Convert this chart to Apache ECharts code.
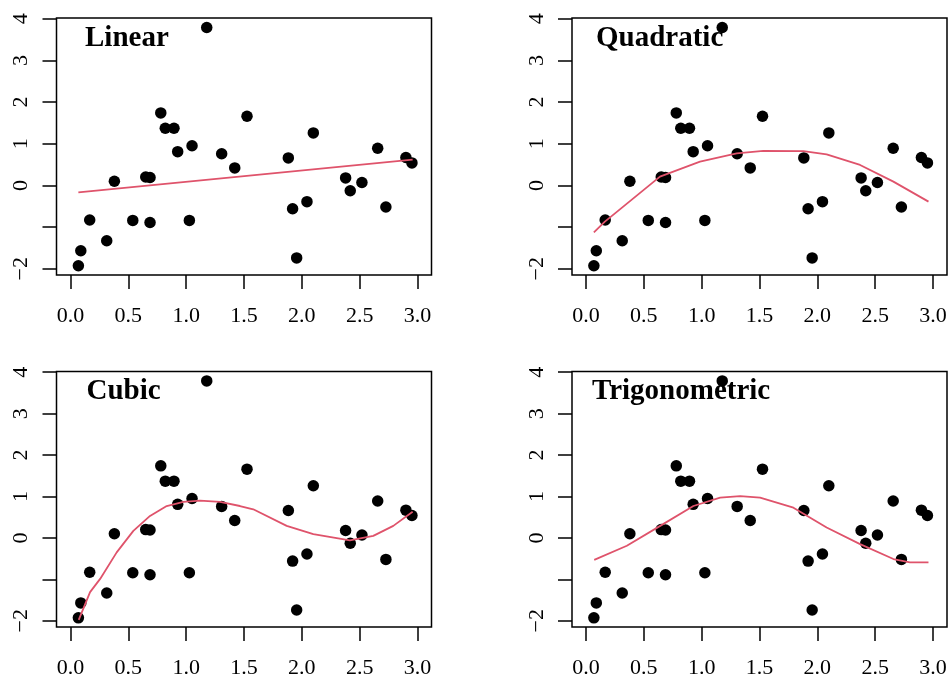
<!DOCTYPE html>
<html>
<head>
<meta charset="utf-8">
<script src="https://cdn.jsdelivr.net/npm/echarts@6/dist/echarts.min.js"></script>
<style>
html,body{margin:0;padding:0;background:#fff;}
#c{width:951px;height:679px;}
</style>
</head>
<body>
<div id="c"></div>
<script>
// observed data (x, y)
var xs = [0.069,0.090,0.167,0.314,0.380,0.539,0.651,0.688,0.688,0.781,0.820,0.895,0.927,1.028,1.051,1.178,1.307,1.420,1.526,1.883,1.920,1.955,2.044,2.099,2.378,2.418,2.519,2.655,2.726,2.899,2.951];
var ys = [-1.93,-1.57,-0.83,-1.33,0.10,-0.84,0.20,0.19,-0.89,1.74,1.37,1.37,0.81,-0.84,0.95,3.79,0.76,0.42,1.66,0.66,-0.56,-1.74,-0.39,1.26,0.18,-0.13,0.07,0.89,-0.52,0.67,0.54];

// fitted curves
var linX = [0.069, 2.957];
var linY = [-0.17, 0.62];

var quadX = [0.069,0.164,0.640,0.986,1.303,1.533,1.879,2.080,2.369,2.657,2.960];
var quadY = [-1.13,-0.87,0.21,0.57,0.77,0.83,0.82,0.745,0.49,0.09,-0.39];

var cubX = [0.072,0.170,0.257,0.400,0.544,0.688,0.832,0.976,1.120,1.293,1.465,1.580,1.869,2.099,2.415,2.617,2.790,2.957];
var cubY = [-1.98,-1.31,-0.99,-0.35,0.17,0.53,0.77,0.87,0.90,0.87,0.77,0.69,0.29,0.09,-0.06,0.05,0.29,0.63];

var trigX = [0.072,0.354,0.642,0.929,1.160,1.333,1.505,1.793,2.080,2.369,2.657,2.800,2.960];
var trigY = [-0.53,-0.19,0.29,0.77,0.97,1.01,0.97,0.73,0.25,-0.15,-0.51,-0.59,-0.59];

var panelTitles = ['Linear','Quadratic','Cubic','Trigonometric'];
var xTicks = [0,0.5,1,1.5,2,2.5,3];
var yTicks = [-2,-1,0,1,2,3,4];
var yLabelValues = [-2,0,1,2,3,4];

function pairs(a,b){ return a.map(function(v,i){ return [v,b[i]]; }); }
var pts = pairs(xs, ys);
var fits = [pairs(linX,linY), pairs(quadX,quadY), pairs(cubX,cubY), pairs(trigX,trigY)];

var FONT = '"Liberation Serif","Times New Roman",serif';
var grids = [
  {left:56.5, top:18, width:375, height:257},
  {left:572, top:18, width:375, height:257},
  {left:56.5, top:371.5, width:375, height:257},
  {left:572, top:371.5, width:375, height:257}
];
var titlePos = [
  {left:85, top:24},
  {left:596, top:24},
  {left:86.5, top:377.5},
  {left:592, top:377.5}
];

var option = {
  animation:false,
  backgroundColor:'#fff',
  title: panelTitles.map(function(t,i){
    return {text:t, left:titlePos[i].left, top:titlePos[i].top, padding:0,
      textStyle:{fontFamily:FONT, fontWeight:'bold', fontSize:29, color:'#000'}};
  }),
  grid: grids.map(function(g){
    return {left:g.left, top:g.top, width:g.width, height:g.height, show:true,
      borderColor:'#000', borderWidth:1.5, backgroundColor:'transparent', containLabel:false};
  }),
  xAxis: grids.map(function(g,i){
    return {type:'value', gridIndex:i, min:-0.12, max:3.12,
      axisLine:{show:false, onZero:false},
      splitLine:{show:false},
      axisTick:{show:true, inside:false, length:14, lineStyle:{color:'#000', width:1.5}, customValues:xTicks},
      axisLabel:{show:true, margin:30, fontFamily:FONT, fontSize:22, color:'#000',
        customValues:xTicks, formatter:function(v){ return v.toFixed(1); }}
    };
  }),
  yAxis: grids.map(function(g,i){
    return {type:'value', gridIndex:i, min:-2.151, max:4.017,
      axisLine:{show:false, onZero:false},
      splitLine:{show:false},
      axisTick:{show:true, inside:false, length:14, lineStyle:{color:'#000', width:1.5}, customValues:yTicks},
      axisLabel:{show:true, rotate:90, margin:24, fontFamily:FONT, fontSize:22, color:'#000',
        customValues:yLabelValues, formatter:function(v){ return v<0 ? '\u2212'+Math.abs(v) : String(v); }}
    };
  }),
  series: []
};
for (var i=0;i<4;i++){
  option.series.push({type:'scatter', xAxisIndex:i, yAxisIndex:i, data:pts,
    symbol:'circle', symbolSize:11.5, itemStyle:{color:'#000', opacity:1}, z:2, silent:true});
  option.series.push({type:'line', xAxisIndex:i, yAxisIndex:i, data:fits[i],
    showSymbol:false, symbol:'none', smooth:false, lineStyle:{color:'#DF536B', width:1.8}, z:3, silent:true});
}
var chart = echarts.init(document.getElementById('c'), null, {renderer:'canvas'});
chart.setOption(option);
</script>
</body>
</html>
